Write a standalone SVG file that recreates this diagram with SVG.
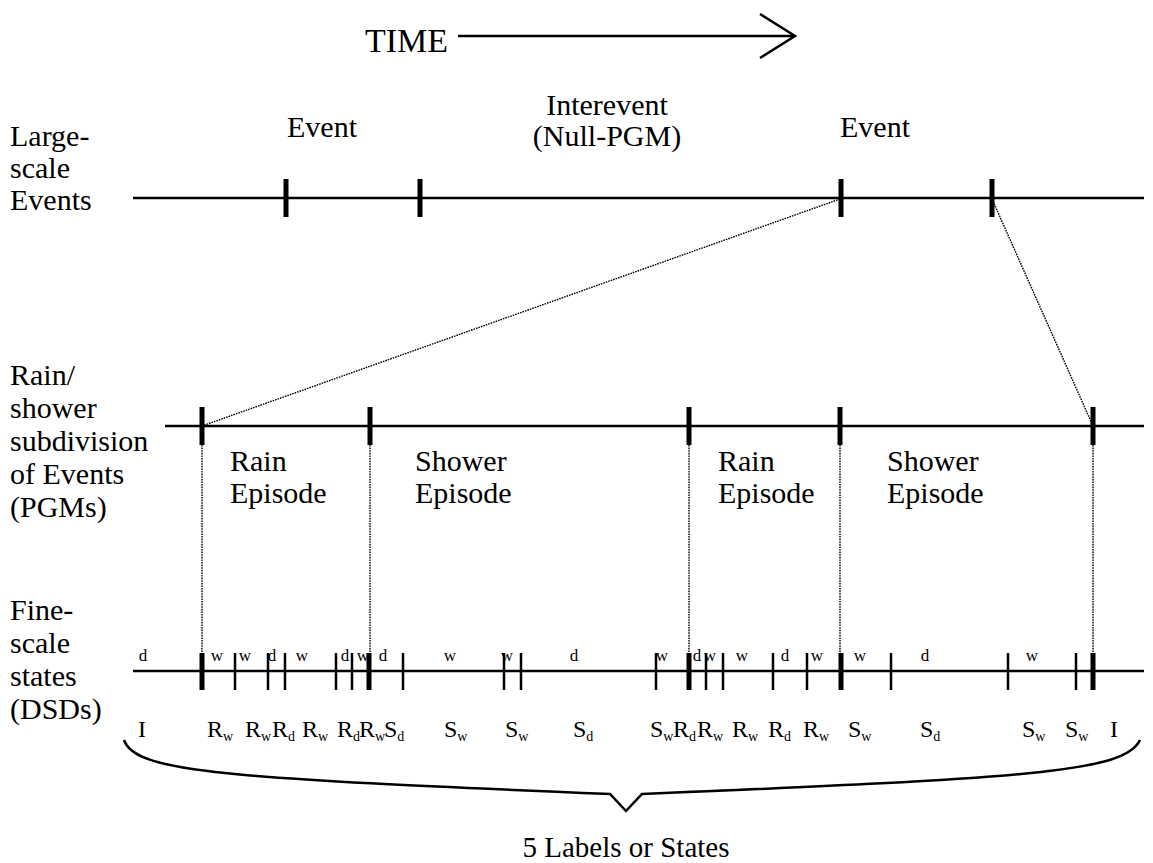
<svg xmlns="http://www.w3.org/2000/svg" width="1153" height="863" viewBox="0 0 1153 863" font-family="'Liberation Serif', Tinos, 'DejaVu Serif', serif">
<style>
text{font-family:"Liberation Serif",Tinos,"DejaVu Serif",serif;fill:#000}
.lbl{font-size:30px}
.big{font-size:34px}
.st{font-size:24px}
.sub{font-size:14px}
.sm{font-size:17px;text-anchor:middle}
.mid{text-anchor:middle}
.axis{stroke:#000;stroke-width:2.5;fill:none}
.tk{stroke:#000;stroke-width:5}
.tn{stroke:#000;stroke-width:2.5}
.dot{stroke:#000;stroke-width:1.4;stroke-dasharray:1.6 1;fill:none}
</style>
<rect width="1153" height="863" fill="#fff"/>
<g id="time-arrow">
<text class="big" x="365" y="52">TIME</text>
<path class="axis" d="M458,36 H795 M760,14 L795,36 L760,58"/>
</g>
<g id="large-scale-labels">
<text class="lbl" x="10" y="146">Large-</text>
<text class="lbl" x="10" y="178">scale</text>
<text class="lbl" x="10" y="210">Events</text>
<text class="lbl mid" x="322" y="137">Event</text>
<text class="lbl mid" x="607" y="115">Interevent</text>
<text class="lbl mid" x="607" y="146">(Null-PGM)</text>
<text class="lbl mid" x="875" y="137">Event</text>
</g>
<g id="large-scale-line">
<line class="axis" x1="133" y1="198" x2="1144" y2="198"/>
<path class="tk" d="M286,179 V217 M420,179 V217 M841,179 V217 M992,179 V217"/>
</g>
<g id="pgm-labels">
<text class="lbl" x="10" y="385">Rain/</text>
<text class="lbl" x="10" y="418">shower</text>
<text class="lbl" x="10" y="451">subdivision</text>
<text class="lbl" x="10" y="484">of Events</text>
<text class="lbl" x="10" y="517">(PGMs)</text>
<text class="lbl" x="230" y="471">Rain</text>
<text class="lbl" x="230" y="503">Episode</text>
<text class="lbl" x="415" y="471">Shower</text>
<text class="lbl" x="415" y="503">Episode</text>
<text class="lbl" x="718" y="471">Rain</text>
<text class="lbl" x="718" y="503">Episode</text>
<text class="lbl" x="887" y="471">Shower</text>
<text class="lbl" x="887" y="503">Episode</text>
</g>
<g id="pgm-line">
<line class="axis" x1="165" y1="426" x2="1144" y2="426"/>
<path class="tk" d="M202,407 V445 M370,407 V445 M689,407 V445 M840,407 V445 M1093,407 V445"/>
</g>
<g id="connectors">
<line class="dot" x1="840" y1="199" x2="202" y2="426"/>
<line class="dot" x1="992" y1="199" x2="1093" y2="426"/>
<path class="dot" d="M202,445 V653 M370,445 V653 M689,445 V653 M840,445 V653 M1093,445 V653"/>
</g>
<g id="dsd-labels">
<text class="lbl" x="10" y="620">Fine-</text>
<text class="lbl" x="10" y="653">scale</text>
<text class="lbl" x="10" y="686">states</text>
<text class="lbl" x="10" y="719">(DSDs)</text>
</g>
<g id="dsd-small-labels">
<text class="sm" x="143" y="661">d</text>
<text class="sm" x="217" y="661">w</text>
<text class="sm" x="245" y="661">w</text>
<text class="sm" x="272" y="661">d</text>
<text class="sm" x="302" y="661">w</text>
<text class="sm" x="345" y="661">d</text>
<text class="sm" x="363" y="661">w</text>
<text class="sm" x="383" y="661">d</text>
<text class="sm" x="450" y="661">w</text>
<text class="sm" x="507" y="661">w</text>
<text class="sm" x="574" y="661">d</text>
<text class="sm" x="662" y="661">w</text>
<text class="sm" x="697" y="661">d</text>
<text class="sm" x="710" y="661">w</text>
<text class="sm" x="742" y="661">w</text>
<text class="sm" x="785" y="661">d</text>
<text class="sm" x="817" y="661">w</text>
<text class="sm" x="860" y="661">w</text>
<text class="sm" x="925" y="661">d</text>
<text class="sm" x="1032" y="661">w</text>
</g>
<g id="dsd-line">
<line class="axis" x1="133" y1="671" x2="1144" y2="671"/>
<path class="tn" d="M235,653 V690 M268,653 V690 M285,653 V690 M336,653 V690 M352,653 V690 M403,653 V690 M504,653 V690 M521,653 V690 M656,653 V690 M706,653 V690 M723,653 V690 M773,653 V690 M807,653 V690 M891,653 V690 M1008,653 V690 M1076,653 V690"/>
<path class="tk" d="M202,653 V690 M369,653 V690 M689,653 V690 M841,653 V690 M1093,653 V690"/>
</g>
<g id="dsd-states">
<text class="st" x="138" y="737">I</text>
<text class="st" x="207" y="737">R<tspan class="sub" dy="4">w</tspan></text>
<text class="st" x="245" y="737">R<tspan class="sub" dy="4">w</tspan></text>
<text class="st" x="272" y="737">R<tspan class="sub" dy="4">d</tspan></text>
<text class="st" x="302" y="737">R<tspan class="sub" dy="4">w</tspan></text>
<text class="st" x="337" y="737">R<tspan class="sub" dy="4">d</tspan></text>
<text class="st" x="359" y="737">R<tspan class="sub" dy="4">w</tspan></text>
<text class="st" x="384" y="737">S<tspan class="sub" dy="4">d</tspan></text>
<text class="st" x="444" y="737">S<tspan class="sub" dy="4">w</tspan></text>
<text class="st" x="505" y="737">S<tspan class="sub" dy="4">w</tspan></text>
<text class="st" x="573" y="737">S<tspan class="sub" dy="4">d</tspan></text>
<text class="st" x="650" y="737">S<tspan class="sub" dy="4">w</tspan></text>
<text class="st" x="673" y="737">R<tspan class="sub" dy="4">d</tspan></text>
<text class="st" x="697" y="737">R<tspan class="sub" dy="4">w</tspan></text>
<text class="st" x="732" y="737">R<tspan class="sub" dy="4">w</tspan></text>
<text class="st" x="768" y="737">R<tspan class="sub" dy="4">d</tspan></text>
<text class="st" x="803" y="737">R<tspan class="sub" dy="4">w</tspan></text>
<text class="st" x="848" y="737">S<tspan class="sub" dy="4">w</tspan></text>
<text class="st" x="920" y="737">S<tspan class="sub" dy="4">d</tspan></text>
<text class="st" x="1022" y="737">S<tspan class="sub" dy="4">w</tspan></text>
<text class="st" x="1065" y="737">S<tspan class="sub" dy="4">w</tspan></text>
<text class="st" x="1110" y="737">I</text>
</g>
<g id="brace">
<path class="axis" d="M124,740 C135,772 220,778 610,794 L626,811 L642,794 C1030,778 1125,772 1140,740"/>
<text class="mid" font-size="29" x="626" y="857">5 Labels or States</text>
</g>
</svg>
